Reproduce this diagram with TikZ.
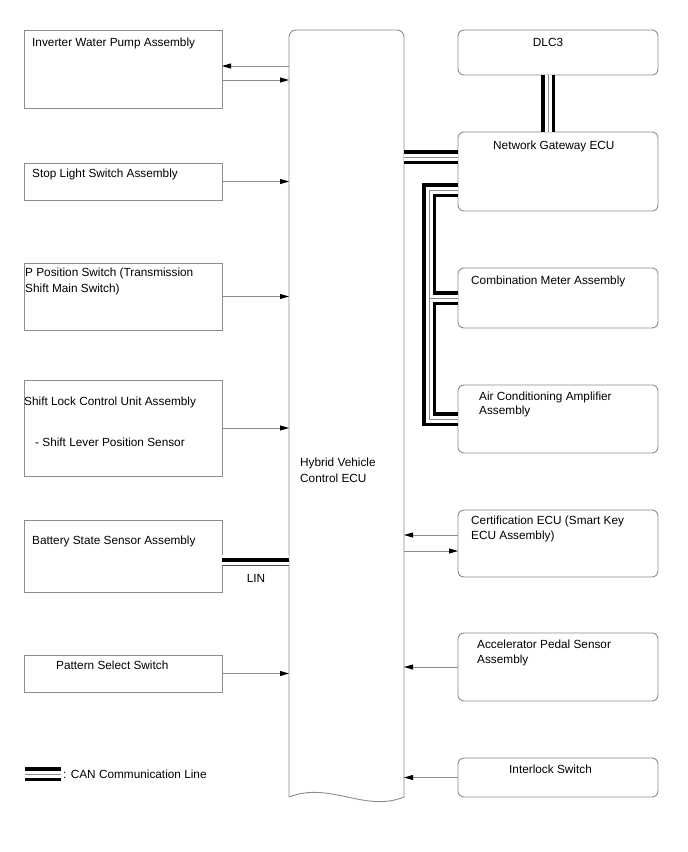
\documentclass[tikz,border=0pt]{standalone}
\usepackage{fontspec}
\setmainfont{Liberation Sans}
\usetikzlibrary{arrows.meta, positioning, calc}
\definecolor{framegray}{RGB}{140,140,140}

% CAN line: two black rails with a thin grey core
\newcommand\canbus[1]{%
  \draw[line width=14pt, black] #1;
  \draw[line width=7pt, white] #1;
  \draw[line width=0.6pt, framegray] #1;}
% LIN line: black core with thin rails
\newcommand\linbus[1]{%
  \draw[line width=11pt, black!70] #1;
  \draw[line width=9.2pt, white] #1;
  \draw[line width=3.5pt, black] #1;}

\begin{document}
\begin{tikzpicture}[x=1pt, y=-1pt,
  lbox/.style={rectangle, draw=framegray, line width=0.9pt, anchor=north west, minimum width=198pt, inner sep=0pt, outer sep=0pt},
  rbox/.style={lbox, rounded corners=6pt, minimum width=200pt},
  lbl/.style={anchor=base west, inner sep=0pt, align=left, font=\fontsize{11.8}{15}\selectfont},
  arrow/.style={draw=framegray, line width=0.8pt, -{Triangle[length=9pt, width=5pt, color=black]}}
]
\useasboundingbox (0,0) rectangle (688,852);

% left column
\node[lbox, minimum height=78pt] (pump) at (24,30) {};
\node[lbox, minimum height=37pt] (stoplt) at (24,163) {};
\node[lbox, minimum height=67pt] (ppos) at (24,263) {};
\node[lbox, minimum height=96pt] (shlock) at (24,380) {};
\node[lbox, minimum height=72pt] (batt) at (24,520) {};
\node[lbox, minimum height=37pt] (patsel) at (24,655) {};

% multi-line labels sit on the baseline of their last line
\node[lbl] (pumptxt) at (32,46.5) {Inverter Water Pump Assembly};
\node[lbl] (stoptxt) at (32,177.5) {Stop Light Switch Assembly};
\node[lbl] (ppostxt) at (25,292) {P Position Switch (Transmission\\[1pt]Shift Main Switch)};
\node[lbl] (shlocktxt) at (24,446) {Shift Lock Control Unit Assembly\\[26pt]\hspace*{11pt}- Shift Lever Position Sensor};
\node[lbl] (batttxt) at (32,544.5) {Battery State Sensor Assembly};
\node[lbl] (pattxt) at (56,669.5) {Pattern Select Switch};

% hybrid ECU
\node[anchor=north west, minimum width=115pt, minimum height=767pt, inner sep=0pt, outer sep=0pt] (ecu) at (289,30) {};
\draw[framegray, line width=0.9pt, rounded corners=7pt] (ecu.south west) -- (ecu.north west) -- (ecu.north east) -- (ecu.south east);
\draw[framegray, line width=0.9pt] (ecu.south west) .. controls +(41,-16) and +(-39,16) .. (ecu.south east);
\node[lbl] (ecutxt) at (300,482.5) {Hybrid Vehicle\\[1pt]Control ECU};

% right column
\node[rbox, minimum height=45pt] (dlc) at (458,30) {};
\node[rbox, minimum height=79pt] (gw) at (458,132) {};
\node[rbox, minimum height=60pt] (meter) at (458,268) {};
\node[rbox, minimum height=68pt] (ac) at (458,385) {};
\node[rbox, minimum height=67pt] (cert) at (458,510) {};
\node[rbox, minimum height=68pt] (accel) at (458,633) {};
\node[rbox, minimum height=39pt] (intlk) at (458,758) {};

\node[lbl, anchor=base] (dlctxt) at (548,46.5) {DLC3};
\node[lbl] (gwtxt) at (493,149.5) {Network Gateway ECU};
\node[lbl] (metertxt) at (471,284.5) {Combination Meter Assembly};
\node[lbl] (actxt) at (479,414) {Air Conditioning Amplifier\\[-1pt]Assembly};
\node[lbl] (certtxt) at (471,539.5) {Certification ECU (Smart Key\\ECU Assembly)};
\node[lbl] (acceltxt) at (477,663.5) {Accelerator Pedal Sensor\\Assembly};
\node[lbl] (intlktxt) at (509,773.5) {Interlock Switch};

% signal lines
\draw[arrow] ([yshift=3pt]pump.east -| ecu.west) -- ([yshift=3pt]pump.east);
\draw[arrow] ([yshift=-11pt]pump.east) -- ([yshift=-11pt]pump.east -| ecu.west);
\draw[arrow] (stoplt.east) -- (stoplt.east -| ecu.west);
\draw[arrow] (ppos.east) -- (ppos.east -| ecu.west);
\draw[arrow] (shlock.east) -- (shlock.east -| ecu.west);
\draw[arrow] (patsel.east) -- (patsel.east -| ecu.west);
\draw[arrow] ([yshift=8.5pt]cert.west) -- ([yshift=8.5pt]cert.west -| ecu.east);
\draw[arrow] ([yshift=-7.5pt]cert.west -| ecu.east) -- ([yshift=-7.5pt]cert.west);
\draw[arrow] (accel.west) -- (accel.west -| ecu.east);
\draw[arrow] (intlk.west) -- (intlk.west -| ecu.east);

\linbus{([yshift=-4pt]batt.east) -- ([yshift=-4pt]batt.east -| ecu.west)}
\node[lbl, anchor=base] (lin) at (256,582) {LIN};

% CAN network
\coordinate (busx) at (429,0);
\canbus{([yshift=14.5pt]gw.west) -- ([yshift=14.5pt]gw.west -| ecu.east)}
\canbus{([xshift=-10pt]dlc.south) -- ([xshift=-10pt]gw.north)}
\canbus{([yshift=-18.5pt]gw.west) -| (busx |- ac.west) -- (ac.west) (busx |- meter.west) -- (meter.west)}

% legend
\coordinate (legA) at (25,774);
\coordinate (legB) at (61,774);
\canbus{(legA) -- (legB)}
\node[lbl] (legtxt) at (63,778) {: CAN Communication Line};

\end{tikzpicture}
\end{document}
